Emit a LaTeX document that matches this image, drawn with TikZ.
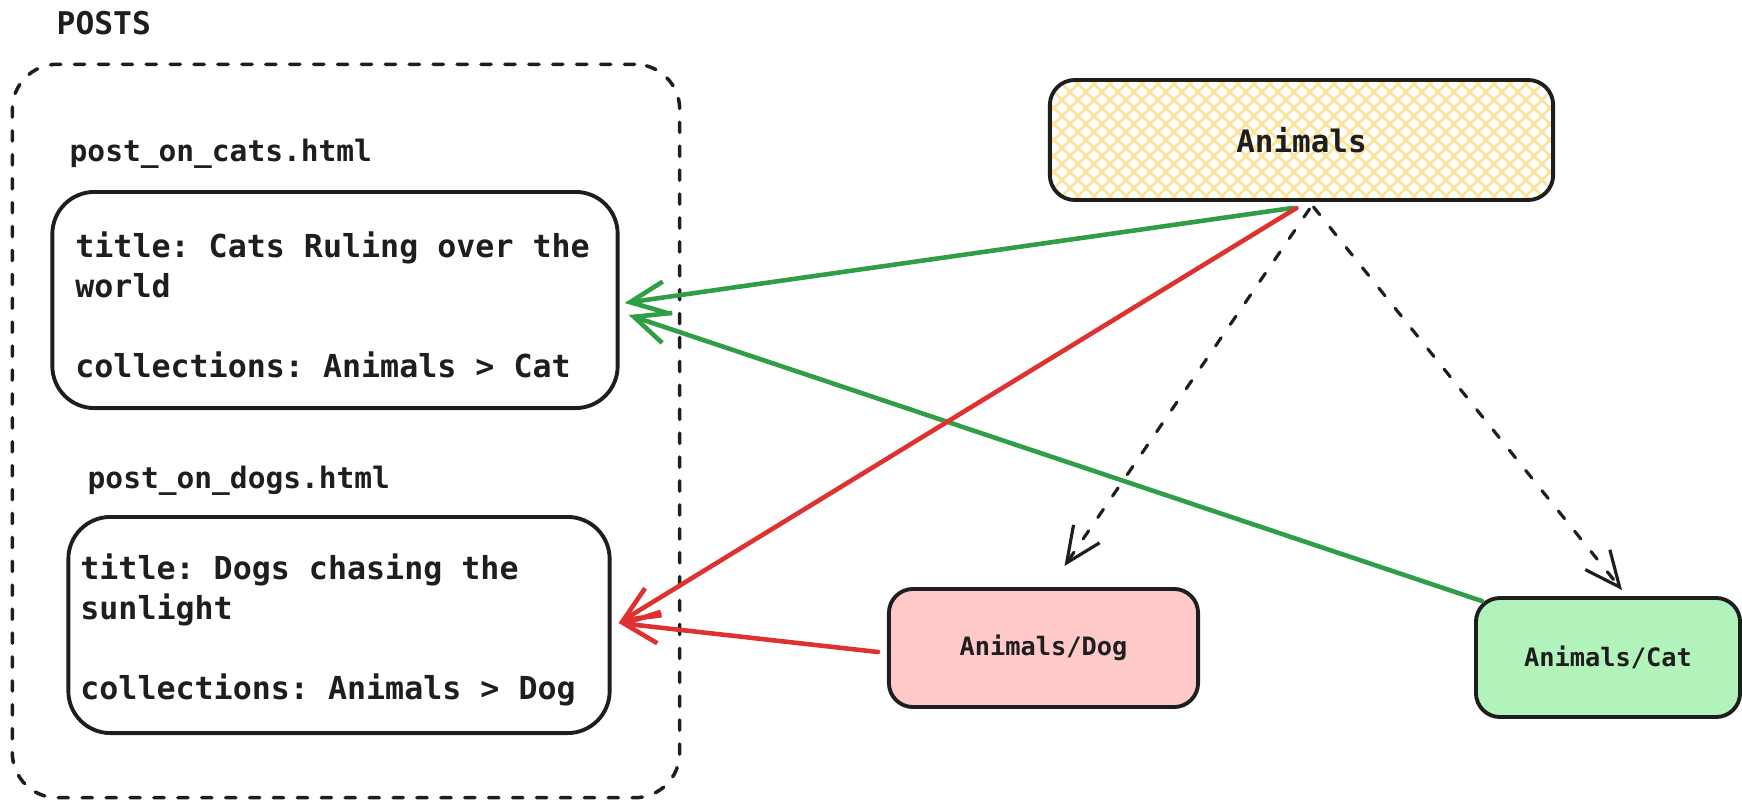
\documentclass[tikz,border=0pt]{standalone}
\usepackage{fontspec}
\setmonofont{DejaVu Sans Mono}
\usetikzlibrary{arrows.meta}
\definecolor{ink}{HTML}{1E1E1E}
\definecolor{linkgreen}{HTML}{2F9E44}
\definecolor{linkred}{HTML}{E03131}
\definecolor{dogfill}{HTML}{FFC9C9}
\definecolor{catfill}{HTML}{B2F2BB}
\definecolor{hatchyellow}{HTML}{FBE39A}

\begin{document}
\begin{tikzpicture}[x=0.01cm, y=-0.01cm, >={Straight Barb[length=10pt,width=9pt]},
	line join=round, line cap=round, text=ink,
	box/.style={draw=ink, line width=1.1pt, inner sep=0pt},
	post/.style={box, rounded corners=0.42cm, minimum height=2.16cm, align=left, text height=10pt,
		font=\ttfamily\bfseries\fontsize{9}{11.4}\selectfont,
		execute at begin node={\spaceskip=0pt\xspaceskip=0pt\frenchspacing}},
	filename/.style={anchor=west, inner sep=0pt, font=\ttfamily\bfseries\fontsize{8.4}{10}\selectfont},
	tag/.style={box, rounded corners=0.24cm, font=\ttfamily\bfseries\fontsize{7.2}{9}\selectfont},
	link/.style={->, line width=1.3pt},
	child/.style={->, draw=ink, line width=0.9pt, dash pattern=on 2.8pt off 4.6pt},
	hatched/.style={path picture={
		\foreach \i in {-120,-104,...,510}{
			\draw[hatchyellow, line width=0.75pt] ([xshift=\i*0.01cm]path picture bounding box.north west) -- ++(120,120);
			\draw[hatchyellow, line width=0.75pt] ([xshift=\i*0.01cm+1.2cm]path picture bounding box.north west) -- ++(-120,120);
		}}}]
	\useasboundingbox (0,0) rectangle (1742,800);

	% posts folder
	\node[filename, font=\ttfamily\bfseries\fontsize{8.9}{10}\selectfont] (postslabel) at (56,23) {POSTS};
	\node[draw=ink, line width=1pt, dash pattern=on 2.9pt off 3.9pt, rounded corners=0.45cm,
		minimum width=6.67cm, minimum height=7.33cm] (posts) at (346,431) {};

	\node[filename] (catsfile) at (69,154) {post\_on\_cats.html};
	\node[post, text width=5.19cm, inner xsep=0.23cm] (cats) at (335,300)
		{title: Cats Ruling over the\\world\\[11.4pt]collections: Animals > Cat};

	\node[filename] (dogsfile) at (87,481) {post\_on\_dogs.html};
	\node[post, text width=5.17cm, inner xsep=0.12cm] (dogs) at (339,625)
		{title: Dogs chasing the\\sunlight\\[11.4pt]collections: Animals > Dog};

	% collections
	\node[box, hatched, rounded corners=0.25cm, minimum width=5.03cm, minimum height=1.2cm,
		font=\ttfamily\bfseries\fontsize{8.8}{10}\selectfont] (animals) at (1301.5,140) {Animals};
	\node[tag, fill=dogfill, minimum width=3.09cm, minimum height=1.18cm] (dog) at (1043.5,648) {Animals/Dog};
	\node[tag, fill=catfill, minimum width=2.64cm, minimum height=1.19cm] (cat) at (1608,657.5) {Animals/Cat};

	\draw[child] ([shift={(8,7)}]animals.south) -- ([shift={(21,-21)}]dog.north);
	\draw[child] ([shift={(12,5)}]animals.south) -- ([shift={(14,-6)}]cat.north);

	\draw[link, linkgreen] ([shift={(-9,6)}]animals.south) -- ([shift={(5,3)}]cats.east);
	\draw[link, linkgreen] ([shift={(8,5)}]cat.north west) -- ([shift={(9,15)}]cats.east);
	\draw[link, linkred] ([shift={(-5,6)}]animals.south) -- ([shift={(7,-2)}]dogs.east);
	\draw[link, linkred] ([shift={(-9,4)}]dog.west) -- ([shift={(7,-2)}]dogs.east);
\end{tikzpicture}
\end{document}
